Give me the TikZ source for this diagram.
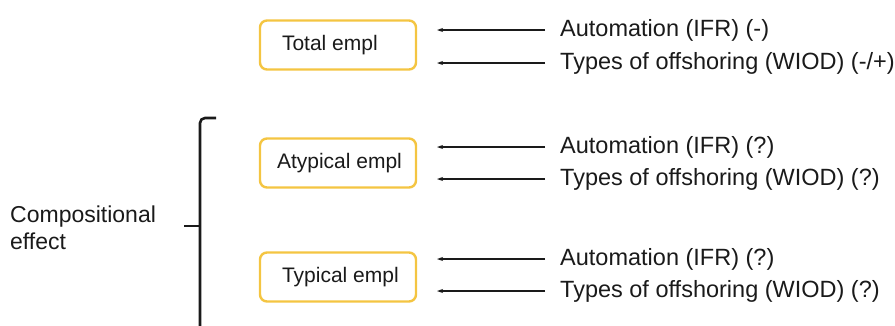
\documentclass[tikz,border=0pt]{standalone}
\usepackage{fontspec}
\setmainfont{Liberation Sans}
\usetikzlibrary{arrows.meta}
\definecolor{boxgold}{HTML}{F4C542}
\definecolor{inkgrey}{HTML}{1A1A1A}
\newcommand{\boxlabel}[2][0pt]{\makebox[112pt][l]{\hspace*{#1}#2}}
\begin{document}
\begin{tikzpicture}[x=1pt,y=-1pt,
  empbox/.style={draw=boxgold, line width=2.4pt, rounded corners=7pt,
    inner xsep=22pt, inner ysep=0pt, minimum height=49pt,
    font=\fontsize{21}{23}\selectfont, text=inkgrey},
  driver/.style={anchor=west, inner sep=0pt, font=\fontsize{23.5}{26}\selectfont, text=inkgrey},
  feed/.style={-{Stealth[length=6pt,width=4pt]}, line width=1.1pt, inkgrey},
  bracket/.style={line width=2.6pt, inkgrey}]
\useasboundingbox (0,0) rectangle (895,325);

% employment outcomes
\node[empbox] (total) at (338,45) {\raisebox{2pt}{\boxlabel{Total empl}}};
\node[empbox] (atyp)  at (338,163) {\boxlabel[-5pt]{Atypical empl}};
\node[empbox] (typ)   at (338,277) {\boxlabel{Typical empl}};

% explanatory variables
\node[driver] (t1) at (560,30) {Automation (IFR) (-)};
\node[driver] (t2) at (560,63) {Types of offshoring (WIOD) (-/+)};
\node[driver] (a1) at (560,147) {Automation (IFR) (?)};
\node[driver] (a2) at (560,179) {Types of offshoring (WIOD) (?)};
\node[driver] (p1) at (560,259) {Automation (IFR) (?)};
\node[driver] (p2) at (560,291) {Types of offshoring (WIOD) (?)};

% arrows from variables towards outcomes
\coordinate (tip) at (437,0);
\foreach \v in {t1,t2,a1,a2,p1,p2}
  \draw[feed] ([xshift=-15pt]\v.west) -- (\v.west -| tip);

% grouping bracket
\coordinate (brtop) at (216,118);
\coordinate (brmid) at (184,226);
\draw[bracket] (brtop) -- (205,118) arc[start angle=90, end angle=180, radius=5pt] -- (200,330);
\draw[bracket] (brmid) -- (200,226);

\node[anchor=west, inner sep=0pt, align=left, font=\fontsize{23}{27}\selectfont, text=inkgrey]
  (comp) at (10,228) {Compositional\\effect};
\end{tikzpicture}
\end{document}
